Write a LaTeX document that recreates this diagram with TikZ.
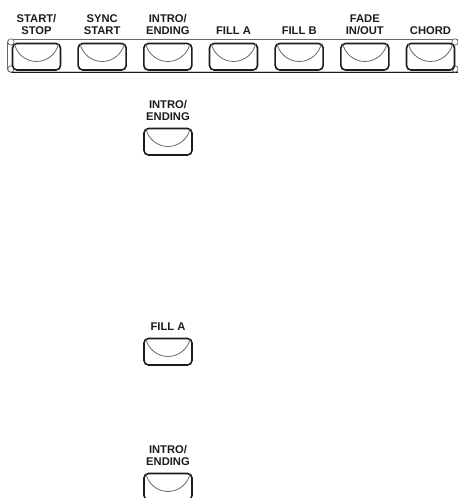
\documentclass[tikz,border=0pt]{standalone}
\usepackage{fontspec}
\setmainfont{Liberation Sans}
\definecolor{keyink}{HTML}{1C1C1C}
\definecolor{dishgray}{HTML}{686868}
\tikzset{
  keylabel/.style={font=\fontsize{11.2}{11.7}\selectfont\bfseries, text=keyink, align=center, anchor=south, inner sep=0pt, text depth=0pt},
  keyoutline/.style={draw=keyink, line width=1.6pt, rounded corners=4.5pt},
  keydish/.style={draw=dishgray, line width=0.8pt},
  framering/.style={draw=dishgray, line width=0.7pt, fill=white}
}
% One button: #1 centre x, #2 top y, #3 label, #4 label gap, #5 node name
\newcommand{\keybutton}[5]{
  \draw[keyoutline] (#1-24,#2) rectangle (#1+24,#2+26.5);
  \draw[keydish] (#1-22,#2+0.5) .. controls (#1-20,#2+10) and (#1-11,#2+18) .. (#1,#2+18)
                 .. controls (#1+11,#2+18) and (#1+20,#2+10) .. (#1+22,#2+0.5);
  \node[keylabel] (#5) at (#1,#2-#4) {#3};
}
\begin{document}
\begin{tikzpicture}[x=1pt,y=-1pt]
      \path[use as bounding box, clip] (0,0) rectangle (458,498);

      % Frame round the button row
      \draw[draw=dishgray, line width=0.8pt, rounded corners=3pt] (7.5,39.5) rectangle (466,72);
      \draw[draw=keyink, line width=0.8pt] (11,72) -- (458,72);
      \foreach \ringx/\ringy in {11/42, 11/69, 455/42, 455/69} {
          \draw[framering] (\ringx,\ringy) circle (3.2);
      }

      % Constants
      \def\firstX{36.5}
      \def\stepX{65.67}
      \def\rowY{43.5}

      % Button row
      \foreach \i/\lbl in {0/{START/\\STOP}, 1/{SYNC\\START}, 2/{INTRO/\\ENDING}, 3/{FILL A}, 4/{FILL B}, 5/{FADE\\IN/OUT}, 6/{CHORD}} {
          \pgfmathsetmacro{\keyX}{\firstX + \stepX * \i}
          \keybutton{\keyX}{\rowY}{\lbl}{9}{rowlabel\i}
      }

      % Buttons on their own
      \keybutton{168}{128.5}{INTRO/\\ENDING}{8}{introA}
      \keybutton{168}{338.5}{FILL A}{8}{fillA}
      \keybutton{168}{473.5}{INTRO/\\ENDING}{8}{introB}

    \end{tikzpicture}
\end{document}
